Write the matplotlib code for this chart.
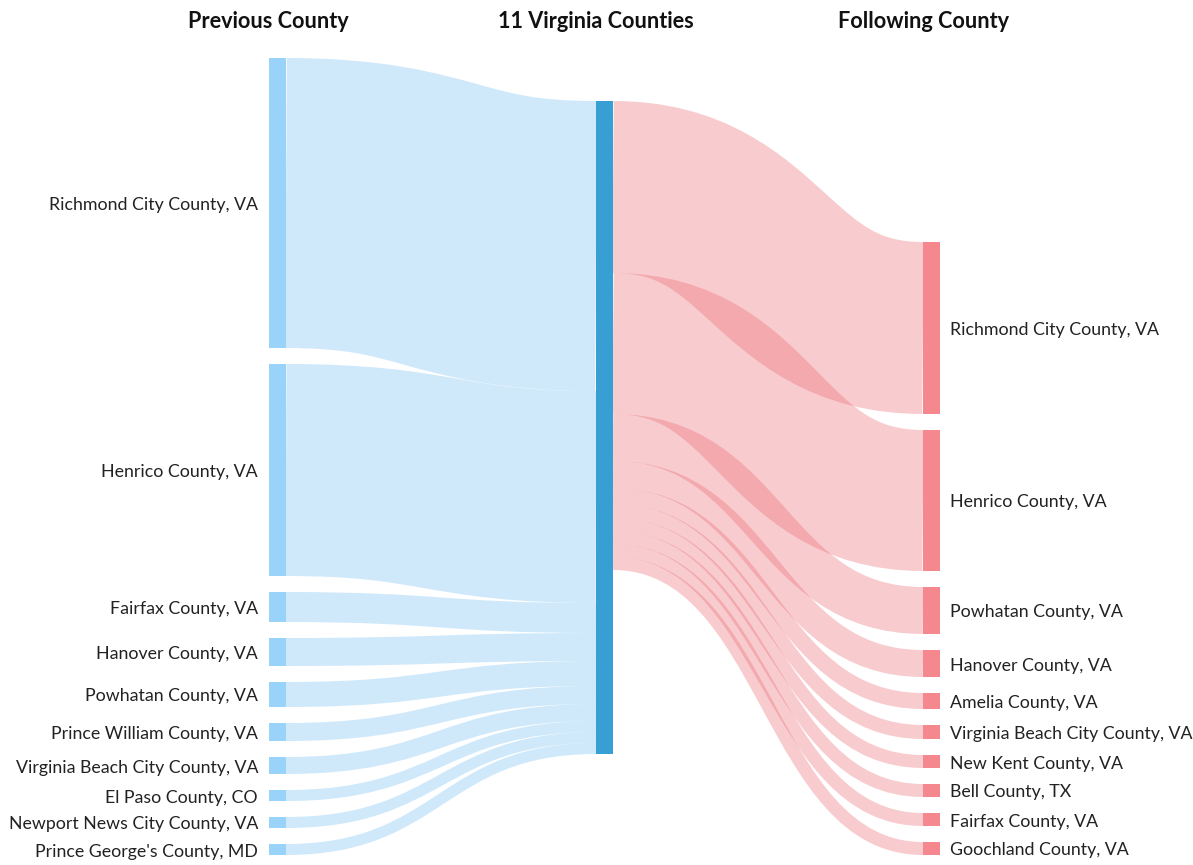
import matplotlib
matplotlib.use("Agg")
import matplotlib.pyplot as plt
from matplotlib.path import Path
from matplotlib.patches import PathPatch, Rectangle

# ---------------- data ----------------
column_titles = ["Previous County", "11 Virginia Counties", "Following County"]
center_name = "11 Virginia Counties"

previous_counties = [
    "Richmond City County, VA", "Henrico County, VA", "Fairfax County, VA",
    "Hanover County, VA", "Powhatan County, VA", "Prince William County, VA",
    "Virginia Beach City County, VA", "El Paso County, CO",
    "Newport News City County, VA", "Prince George's County, MD",
]
previous_values = [290, 212, 30, 28, 25, 18, 17, 11, 11, 11]

following_counties = [
    "Richmond City County, VA", "Henrico County, VA", "Powhatan County, VA",
    "Hanover County, VA", "Amelia County, VA", "Virginia Beach City County, VA",
    "New Kent County, VA", "Bell County, TX", "Fairfax County, VA",
    "Goochland County, VA",
]
following_values = [172, 141, 47, 27, 16, 14, 13, 13, 13, 13]

# ---------------- layout / style ----------------
W, H, DPI = 1193, 865, 100
NODE_W = 17
PAD = 16
TOP, BOTTOM = 58, 855
CENTER_TOP = 101
X_LEFT, X_CENTER, X_RIGHT = 269, 596, 923

LEFT_NODE = "#99d3f9"
CENTER_NODE = "#379fd3"
RIGHT_NODE = "#f5888f"
LEFT_LINK = (0.38, 0.72, 0.96)
RIGHT_LINK = (0.91, 0.35, 0.39)
LINK_ALPHA = 0.3
TEXT = "#222222"

plt.rcParams["font.family"] = ["Lato", "DejaVu Sans"]

fig = plt.figure(figsize=(W / DPI, H / DPI), dpi=DPI)
ax = fig.add_axes([0, 0, 1, 1])
ax.set_xlim(0, W)
ax.set_ylim(H, 0)
ax.axis("off")

# scale: fit left column into available height
n_left = len(previous_values)
ky = (BOTTOM - TOP - PAD * (n_left - 1)) / sum(previous_values)

def stack(values, start):
    pos = []
    y = start
    for v in values:
        h = v * ky
        pos.append((y, y + h))
        y += h + PAD
    return pos

left_pos = stack(previous_values, TOP)
n_right = len(following_values)
right_total = sum(following_values) * ky + PAD * (n_right - 1)
right_pos = stack(following_values, BOTTOM - right_total)
center_h = max(sum(previous_values), sum(following_values)) * ky
center_pos = (CENTER_TOP, CENTER_TOP + center_h)


def draw_link(x0, y0, x1, y1, width, color):
    xm = (x0 + x1) / 2
    path = Path([(x0, y0), (xm, y0), (xm, y1), (x1, y1)],
                [Path.MOVETO, Path.CURVE4, Path.CURVE4, Path.CURVE4])
    patch = PathPatch(path, facecolor="none", edgecolor=color, alpha=LINK_ALPHA,
                      linewidth=width * 72 / DPI, capstyle="butt", zorder=1)
    ax.add_patch(patch)


# links: left -> center
cy = CENTER_TOP
for (a, b), v in zip(left_pos, previous_values):
    h = v * ky
    draw_link(X_LEFT + NODE_W, (a + b) / 2, X_CENTER, cy + h / 2, h, LEFT_LINK)
    cy += h

# links: center -> right
cy = CENTER_TOP
for (a, b), v in zip(right_pos, following_values):
    h = v * ky
    draw_link(X_CENTER + NODE_W, cy + h / 2, X_RIGHT, (a + b) / 2, h, RIGHT_LINK)
    cy += h

# nodes
for (a, b) in left_pos:
    ax.add_patch(Rectangle((X_LEFT, a), NODE_W, b - a, color=LEFT_NODE, lw=0, zorder=2))
ax.add_patch(Rectangle((X_CENTER, center_pos[0]), NODE_W, center_h,
                       color=CENTER_NODE, lw=0, zorder=2))
for (a, b) in right_pos:
    ax.add_patch(Rectangle((X_RIGHT, a), NODE_W, b - a, color=RIGHT_NODE, lw=0, zorder=2))

# labels
LABEL_DY = 2
for (a, b), name in zip(left_pos, previous_counties):
    ax.text(X_LEFT - 11, (a + b) / 2 + LABEL_DY, name, ha="right", va="center",
            fontsize=12.8, color=TEXT)
for (a, b), name in zip(right_pos, following_counties):
    ax.text(X_RIGHT + NODE_W + 10, (a + b) / 2 + LABEL_DY, name, ha="left", va="center",
            fontsize=12.8, color=TEXT)

# column titles
for x, t in zip([X_LEFT - 1, X_CENTER, X_RIGHT], column_titles):
    ax.text(x, 21, t, ha="center", va="center", fontsize=15.6,
            fontweight="bold", color="#111111")

fig.savefig("out.png", dpi=DPI)
